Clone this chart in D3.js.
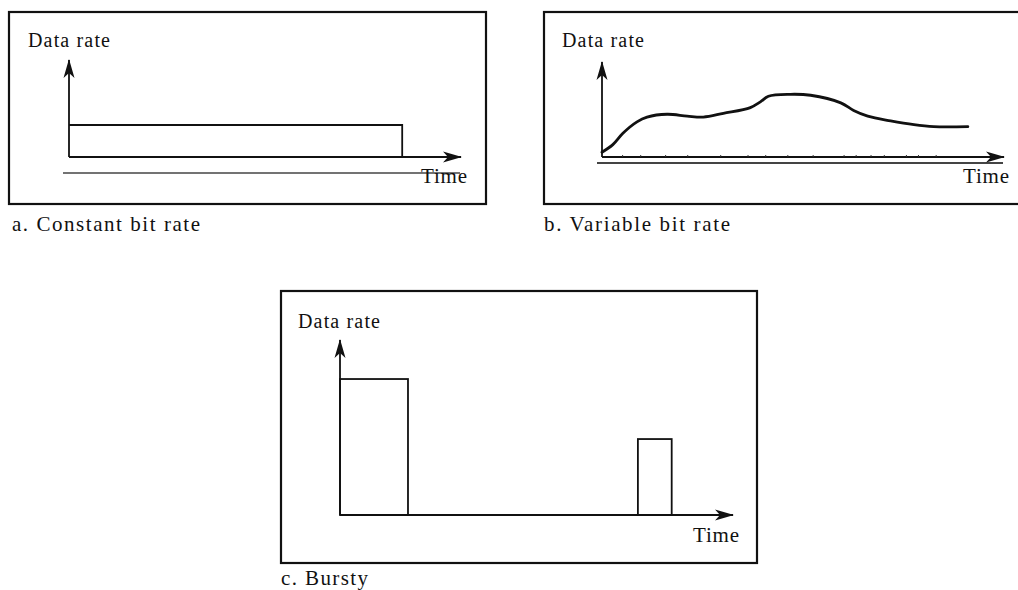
<!DOCTYPE html>
<html>
<head>
<meta charset="utf-8">
<script src="https://cdn.jsdelivr.net/npm/d3@7"></script>
<style>
  body { margin: 0; background: #fff; }
  svg { display: block; }
  text { font-family: "Liberation Serif", "Times New Roman", serif; fill: #111; }
</style>
</head>
<body>
<div id="chart"></div>
<script>
//panel a: constant bit rate (time in 0-100 units, rate in 0-100 units)
const cbrSpan = [0, 85];
const cbrRate = 33;

//panel b: variable bit rate curve
const vbrTime = [0, 2.7, 5.2, 8.7, 11.2, 16.2, 21.2, 25.2, 30.2, 36.9, 39.4, 41.4, 46.9, 51.9, 59.4, 62.6, 66.1, 71.8, 77.6, 82.5, 91.0];
const vbrRate = [5, 13, 25, 37, 42, 45, 43, 42, 46, 52, 58, 64, 66, 65, 57, 49, 43, 38, 34, 32, 32];
//small marks along the time axis of panel b
const vbrTicks = [5, 9.5, 15.7, 21.2, 29.4, 36.2, 40.6, 46.1, 52.4, 60.1, 63.1, 66.8, 70.1, 75.6, 78.6, 83.0];

//panel c: bursty traffic
const burstStart = [0, 75.8];
const burstEnd = [17.3, 84.4];
const burstRate = [77.7, 43.4];

//texts
const yLabel = "Data rate";
const xLabel = "Time";
const captions = ["a. Constant bit rate", "b. Variable bit rate", "c. Bursty"];

const svg = d3.select("#chart")
  .append("svg")
  .attr("width", 1018)
  .attr("height", 590);

//arrow head marker
svg.append("defs")
  .append("marker")
  .attr("id", "arrow")
  .attr("viewBox", "-20 -8 22 16")
  .attr("refX", 0)
  .attr("refY", 0)
  .attr("markerUnits", "userSpaceOnUse")
  .attr("markerWidth", 22)
  .attr("markerHeight", 16)
  .attr("orient", "auto")
  .append("path")
  .attr("d", "M1,0 L-18,-5.5 L-13,0 L-18,5.5 Z")
  .attr("fill", "#111");

//panel layouts
const panels = [
  { box: [9, 12, 486, 204], origin: [69, 157], xEnd: 461, yEnd: 60, caption: [12, 231, 188],
    ylab: [28, 47], xlab: [421, 183], under: [63, 173, 460, 1.4] },
  { box: [544, 12, 1030, 204], origin: [602, 157], xEnd: 1004, yEnd: 62, caption: [544, 231, 186],
    ylab: [562, 47], xlab: [963, 183], under: [597, 163, 1003, 2.2] },
  { box: [281, 291, 757, 563], origin: [340, 515], xEnd: 733, yEnd: 340, caption: [281, 585, 87],
    ylab: [298, 328], xlab: [693, 542], under: null }
];

//draw frame, axes and labels for one panel
function drawFrame(p, i) {
  const [x0, y0, x1, y1] = p.box;
  const g = svg.append("g").attr("class", "panel-" + i);

  g.append("rect")
    .attr("x", x0)
    .attr("y", y0)
    .attr("width", x1 - x0)
    .attr("height", y1 - y0)
    .attr("fill", "none")
    .attr("stroke", "#111")
    .attr("stroke-width", 2.2);

  const x = d3.scaleLinear().domain([0, 100]).range([p.origin[0], p.xEnd]);
  const y = d3.scaleLinear().domain([0, 100]).range([p.origin[1], p.yEnd]);

  //underline beneath the time axis
  if (p.under) {
    g.append("line")
      .attr("x1", p.under[0])
      .attr("x2", p.under[2])
      .attr("y1", p.under[1])
      .attr("y2", p.under[1])
      .attr("stroke", "#444")
      .attr("stroke-width", p.under[3]);
  }

  //axes with arrows
  g.append("line")
    .attr("x1", x(0)).attr("y1", y(0))
    .attr("x2", x(100)).attr("y2", y(0))
    .attr("stroke", "#111")
    .attr("stroke-width", 1.8)
    .attr("marker-end", "url(#arrow)");
  g.append("line")
    .attr("x1", x(0)).attr("y1", y(0))
    .attr("x2", x(0)).attr("y2", y(100))
    .attr("stroke", "#111")
    .attr("stroke-width", 1.8)
    .attr("marker-end", "url(#arrow)");

  g.append("text")
    .attr("x", p.ylab[0])
    .attr("y", p.ylab[1])
    .attr("font-size", 20)
    .attr("textLength", 82)
    .attr("lengthAdjust", "spacing")
    .text(yLabel);
  g.append("text")
    .attr("x", p.xlab[0])
    .attr("y", p.xlab[1])
    .attr("font-size", 21)
    .attr("textLength", 46)
    .attr("lengthAdjust", "spacing")
    .text(xLabel);
  g.append("text")
    .attr("x", p.caption[0])
    .attr("y", p.caption[1])
    .attr("font-size", 21)
    .attr("textLength", p.caption[2])
    .attr("lengthAdjust", "spacing")
    .text(captions[i]);

  return { g, x, y };
}

//panel a
const a = drawFrame(panels[0], 0);
a.g.append("path")
  .attr("d", d3.line()([
    [a.x(cbrSpan[0]), a.y(cbrRate)],
    [a.x(cbrSpan[1]), a.y(cbrRate)],
    [a.x(cbrSpan[1]), a.y(0)]
  ]))
  .attr("fill", "none")
  .attr("stroke", "#111")
  .attr("stroke-width", 1.8);

//panel b
const b = drawFrame(panels[1], 1);
const tickAxis = d3.axisTop(b.x)
  .tickValues(vbrTicks)
  .tickSize(2)
  .tickFormat("");
b.g.append("g")
  .attr("transform", `translate(0,${b.y(0)})`)
  .call(tickAxis)
  .call(s => s.select(".domain").remove())
  .selectAll("line")
  .attr("stroke", "#333");
const curve = d3.line()
  .x((d, i) => b.x(vbrTime[i]))
  .y(d => b.y(d))
  .curve(d3.curveCatmullRom.alpha(0.5));
b.g.append("path")
  .datum(vbrRate)
  .attr("d", curve)
  .attr("fill", "none")
  .attr("stroke", "#111")
  .attr("stroke-width", 2.8)
  .attr("stroke-linecap", "round");

//panel c
const c = drawFrame(panels[2], 2);
c.g.selectAll("rect.burst")
  .data(burstRate)
  .enter()
  .append("rect")
  .attr("class", "burst")
  .attr("x", (d, i) => c.x(burstStart[i]))
  .attr("y", d => c.y(d))
  .attr("width", (d, i) => c.x(burstEnd[i]) - c.x(burstStart[i]))
  .attr("height", d => c.y(0) - c.y(d))
  .attr("fill", "none")
  .attr("stroke", "#111")
  .attr("stroke-width", 1.8);
</script>
</body>
</html>
